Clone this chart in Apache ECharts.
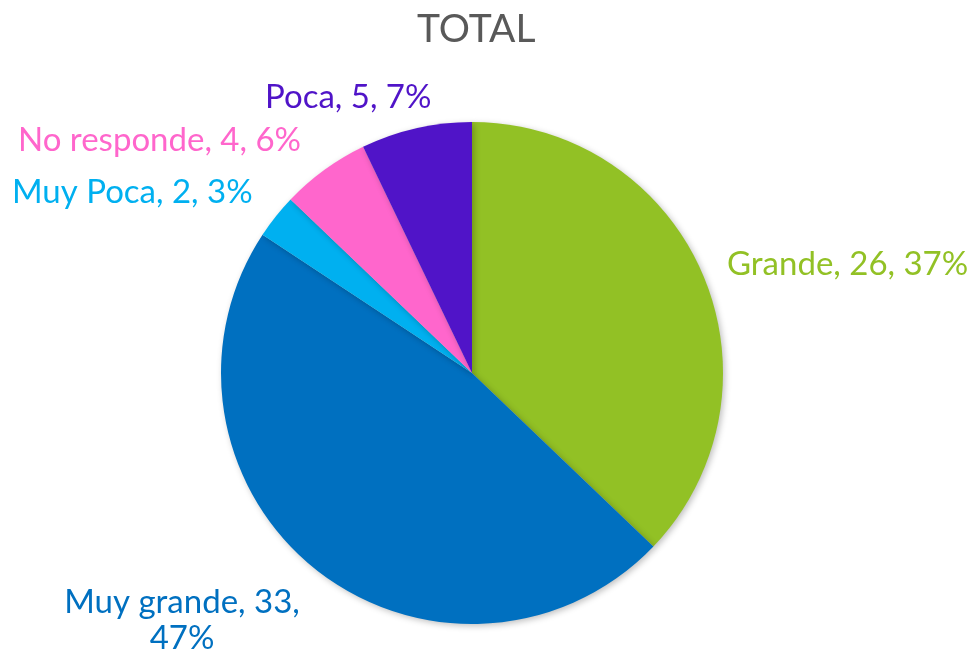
<!DOCTYPE html>
<html>
<head>
<meta charset="utf-8">
<script src="https://cdn.jsdelivr.net/npm/echarts@6/dist/echarts.min.js"></script>
<style>
  html, body { margin: 0; padding: 0; background: #fff; }
  #main { width: 973px; height: 652px; }
</style>
</head>
<body>
<div id="main"></div>
<script>
var categories = ['Grande', 'Muy grande', 'Muy Poca', 'No responde', 'Poca'];
var values = [26, 33, 2, 4, 5];
var colors = ['#92C125', '#0070C0', '#00B0F0', '#FF66CC', '#5014C8'];

var chart = echarts.init(document.getElementById('main'));

var pieData = [];
for (var i = 0; i < categories.length; i++) {
	pieData.push({
		name: categories[i],
		value: values[i],
		itemStyle: { color: colors[i] },
		label: { color: colors[i] }
	});
}

// where each label sits (text anchor), like the original layout
var labelSpots = [
	{ x: 727, y: 264, align: 'left' },
	{ x: 182, y: 620, align: 'center' },
	{ x: 12, y: 192, align: 'left' },
	{ x: 18, y: 140, align: 'left' },
	{ x: 265, y: 97, align: 'left' }
];

var option = {
	backgroundColor: '#fff',
	title: {
		text: 'TOTAL',
		left: 412,
		top: 5,
		textStyle: { fontFamily: 'Lato', fontSize: 39, fontWeight: 'normal', color: '#595959' }
	},
	series: [{
		type: 'pie',
		center: [472, 373],
		radius: 251,
		startAngle: 90,
		clockwise: true,
		percentPrecision: 0,
		avoidLabelOverlap: false,
		itemStyle: {
			borderWidth: 0,
			shadowBlur: 6,
			shadowColor: 'rgba(0,0,0,0.25)',
			shadowOffsetX: 2,
			shadowOffsetY: 2
		},
		label: {
			show: true,
			position: 'outside',
			fontFamily: 'Lato',
			fontSize: 33,
			lineHeight: 36,
			formatter: function (p) {
				var sep = p.dataIndex === 1 ? ',\n' : ', ';
				return p.name + ', ' + p.value + sep + p.percent + '%';
			}
		},
		labelLine: { show: false },
		labelLayout: function (params) {
			var s = labelSpots[params.dataIndex];
			return { x: s.x, y: s.y, align: s.align, verticalAlign: 'middle' };
		},
		data: pieData
	}]
};

chart.setOption(option);
</script>
</body>
</html>
